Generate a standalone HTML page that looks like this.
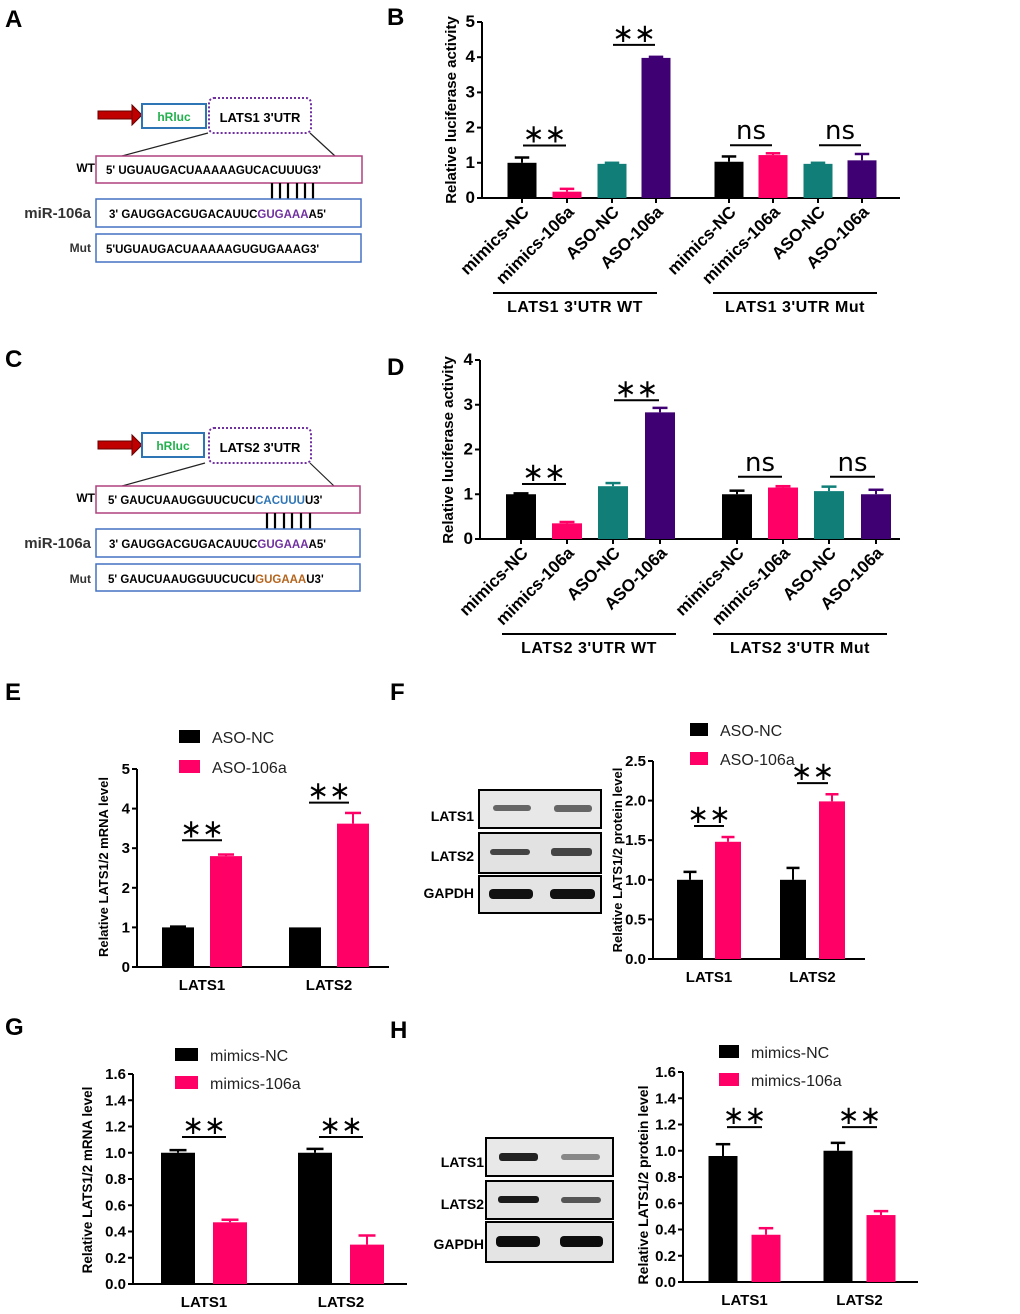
<!DOCTYPE html>
<html><head><meta charset="utf-8">
<style>
html,body{margin:0;padding:0;background:#fff;}
svg{display:block;font-family:"Liberation Sans",Arial,sans-serif;}
.b{font-weight:bold;}
</style></head>
<body>
<svg id="fig" width="1020" height="1314" viewBox="0 0 1020 1314" xmlns="http://www.w3.org/2000/svg">
<!-- panel letters -->
<g class="b" font-size="24">
<text x="5" y="27">A</text><text x="387" y="25">B</text>
<text x="5" y="367">C</text><text x="387" y="375">D</text>
<text x="5" y="700">E</text><text x="390" y="700">F</text>
<text x="5" y="1035">G</text><text x="390" y="1038">H</text>
</g>

<!-- Panel A diagram -->
<g>
<rect x="98" y="111" width="36" height="8" fill="#c00000" stroke="#600" stroke-width="1"/>
<polygon points="132,105 142,115 132,125" fill="#c00000" stroke="#600"/>
<rect x="142" y="104" width="64" height="24" fill="#fff" stroke="#2e75b6" stroke-width="2"/>
<text x="174" y="121" text-anchor="middle" class="b" font-size="12" fill="#22b14c">hRluc</text>
<rect x="209" y="98" width="102" height="35" rx="5" fill="none" stroke="#7030a0" stroke-width="2" stroke-dasharray="2,2"/>
<text x="260" y="122" text-anchor="middle" class="b" font-size="13">LATS1 3'UTR</text>
<line x1="208" y1="133" x2="122" y2="156" stroke="#222" stroke-width="1.2"/>
<line x1="310" y1="133" x2="335" y2="156" stroke="#222" stroke-width="1.2"/>
<text x="95" y="172" text-anchor="end" class="b" font-size="12">WT</text>
<rect x="96" y="156" width="266" height="27" fill="#fff" stroke="#b0407f" stroke-width="1.5"/>
<text x="106" y="174" class="b" font-size="11.5">5' UGUAUGACUAAAAAGUCACUUUG3'</text>
<g stroke="#000" stroke-width="2.2"><line x1="272" y1="183" x2="272" y2="199"/><line x1="280" y1="183" x2="280" y2="199"/><line x1="288" y1="183" x2="288" y2="199"/><line x1="297" y1="183" x2="297" y2="199"/><line x1="305" y1="183" x2="305" y2="199"/><line x1="313" y1="183" x2="313" y2="199"/></g>
<text x="91" y="218" text-anchor="end" class="b" font-size="15" fill="#333">miR-106a</text>
<rect x="96" y="199" width="265" height="28" fill="#fff" stroke="#4472c4" stroke-width="1.5"/>
<text x="109" y="218" class="b" font-size="11.5">3' GAUGGACGUGACAUUC<tspan fill="#7030a0">GUGAAA</tspan>A5'</text>
<text x="91" y="252" text-anchor="end" class="b" font-size="12" fill="#333">Mut</text>
<rect x="96" y="234" width="265" height="28" fill="#fff" stroke="#4472c4" stroke-width="1.5"/>
<text x="106" y="253" class="b" font-size="11.5">5'UGUAUGACUAAAAAGUGUGAAAG3'</text>
</g>

<!-- Panel C diagram -->
<g>
<rect x="98" y="441" width="36" height="8" fill="#c00000" stroke="#600" stroke-width="1"/>
<polygon points="132,435 142,445 132,455" fill="#c00000" stroke="#600"/>
<rect x="142" y="433" width="62" height="24" fill="#fff" stroke="#2e75b6" stroke-width="2"/>
<text x="173" y="450" text-anchor="middle" class="b" font-size="12" fill="#22b14c">hRluc</text>
<rect x="209" y="428" width="102" height="35" rx="5" fill="none" stroke="#7030a0" stroke-width="2" stroke-dasharray="2,2"/>
<text x="260" y="452" text-anchor="middle" class="b" font-size="13">LATS2 3'UTR</text>
<line x1="205" y1="463" x2="122" y2="486" stroke="#222" stroke-width="1.2"/>
<line x1="310" y1="463" x2="334" y2="486" stroke="#222" stroke-width="1.2"/>
<text x="95" y="502" text-anchor="end" class="b" font-size="12">WT</text>
<rect x="96" y="486" width="264" height="27" fill="#fff" stroke="#b0407f" stroke-width="1.5"/>
<text x="108" y="504" class="b" font-size="11.5">5' GAUCUAAUGGUUCUCU<tspan fill="#2e75b6">CACUUU</tspan>U3'</text>
<g stroke="#000" stroke-width="2.2"><line x1="267" y1="513" x2="267" y2="529"/><line x1="275" y1="513" x2="275" y2="529"/><line x1="284" y1="513" x2="284" y2="529"/><line x1="292" y1="513" x2="292" y2="529"/><line x1="301" y1="513" x2="301" y2="529"/><line x1="310" y1="513" x2="310" y2="529"/></g>
<text x="91" y="548" text-anchor="end" class="b" font-size="15" fill="#333">miR-106a</text>
<rect x="96" y="529" width="264" height="28" fill="#fff" stroke="#4472c4" stroke-width="1.5"/>
<text x="109" y="548" class="b" font-size="11.5">3' GAUGGACGUGACAUUC<tspan fill="#7030a0">GUGAAA</tspan>A5'</text>
<text x="91" y="583" text-anchor="end" class="b" font-size="12" fill="#333">Mut</text>
<rect x="96" y="564" width="264" height="27" fill="#fff" stroke="#4472c4" stroke-width="1.5"/>
<text x="108" y="583" class="b" font-size="11.5">5' GAUCUAAUGGUUCUCU<tspan fill="#b5651d">GUGAAA</tspan>U3'</text>
</g>

<!-- Blots F -->
<g>
<rect x="479" y="790" width="122" height="38" fill="#e8e8e8" stroke="#000" stroke-width="2"/>
<rect x="479" y="833" width="122" height="40" fill="#e2e2e2" stroke="#000" stroke-width="2"/>
<rect x="479" y="876" width="122" height="37" fill="#e4e4e4" stroke="#000" stroke-width="2"/>
<g fill="#666"><rect x="493" y="805" width="38" height="6" rx="3"/><rect x="554" y="805" width="38" height="7" rx="3"/></g>
<g fill="#444"><rect x="490" y="849" width="40" height="6" rx="3"/><rect x="551" y="848" width="41" height="8" rx="3"/></g>
<g fill="#111"><rect x="489" y="889" width="44" height="10" rx="4"/><rect x="550" y="889" width="45" height="10" rx="4"/></g>
<g class="b" font-size="14" text-anchor="end"><text x="474" y="821">LATS1</text><text x="474" y="861">LATS2</text><text x="474" y="898">GAPDH</text></g>
</g>
<!-- Blots H -->
<g>
<rect x="486" y="1138" width="127" height="38" fill="#e8e8e8" stroke="#000" stroke-width="2"/>
<rect x="486" y="1181" width="127" height="38" fill="#e4e4e4" stroke="#000" stroke-width="2"/>
<rect x="486" y="1222" width="127" height="40" fill="#e4e4e4" stroke="#000" stroke-width="2"/>
<g fill="#222"><rect x="499" y="1153" width="39" height="8" rx="3"/></g><g fill="#888"><rect x="561" y="1154" width="39" height="6" rx="3"/></g>
<g fill="#1a1a1a"><rect x="498" y="1196" width="41" height="7" rx="3"/></g><g fill="#555"><rect x="561" y="1197" width="40" height="6" rx="3"/></g>
<g fill="#0d0d0d"><rect x="496" y="1236" width="44" height="11" rx="4"/><rect x="560" y="1236" width="43" height="11" rx="4"/></g>
<g class="b" font-size="14" text-anchor="end"><text x="484" y="1167">LATS1</text><text x="484" y="1209">LATS2</text><text x="484" y="1249">GAPDH</text></g>
</g>
<g id="charts"></g>
</svg>
<script>
// ---- data ----
const bCats = ["mimics-NC","mimics-106a","ASO-NC","ASO-106a","mimics-NC","mimics-106a","ASO-NC","ASO-106a"];
const bVals = [1.0,0.18,0.97,3.98,1.03,1.22,0.97,1.07];
const bErr  = [0.15,0.08,0.03,0.03,0.15,0.05,0.03,0.18];
const bTicks = ["0","1","2","3","4","5"];
const dCats = ["mimics-NC","mimics-106a","ASO-NC","ASO-106a","mimics-NC","mimics-106a","ASO-NC","ASO-106a"];
const dVals = [1.0,0.35,1.18,2.83,1.0,1.15,1.07,1.0];
const dErr  = [0.02,0.03,0.07,0.1,0.08,0.03,0.1,0.1];
const dTicks = ["0","1","2","3","4"];
const eCats = ["LATS1","LATS2"];
const eNC = [1.0,1.0], eNCErr=[0.02,0];
const eTr = [2.8,3.62], eTrErr=[0.04,0.27];
const eTicks = ["0","1","2","3","4","5"];
const fCats = ["LATS1","LATS2"];
const fNC = [1.0,1.0], fNCErr=[0.1,0.15];
const fTr = [1.48,1.99], fTrErr=[0.06,0.09];
const fTicks = ["0.0","0.5","1.0","1.5","2.0","2.5"];
const gCats = ["LATS1","LATS2"];
const gNC = [1.0,1.0], gNCErr=[0.02,0.03];
const gTr = [0.47,0.3], gTrErr=[0.02,0.07];
const gTicks = ["0.0","0.2","0.4","0.6","0.8","1.0","1.2","1.4","1.6"];
const hCats = ["LATS1","LATS2"];
const hNC = [0.96,1.0], hNCErr=[0.09,0.06];
const hTr = [0.36,0.51], hTrErr=[0.05,0.03];
const hTicks = ["0.0","0.2","0.4","0.6","0.8","1.0","1.2","1.4","1.6"];

const NS="http://www.w3.org/2000/svg";
const root=document.getElementById('charts');
function mk(tag,attrs,parent,txt){const e=document.createElementNS(NS,tag);for(const k in attrs)e.setAttribute(k,attrs[k]);if(txt!==undefined)e.textContent=txt;(parent||root).appendChild(e);return e;}
const PINK="#ff0066",TEAL="#117f78",PURP="#3f0073";
const lumColors=["#000",PINK,TEAL,PURP,"#000",PINK,TEAL,PURP];

function axes(g,c,ticks,title,fs){
  const y=v=>c.y0-(v/c.max)*(c.y0-c.yTop);
  mk('line',{x1:c.ax,y1:c.y0,x2:c.ax,y2:c.yTop,stroke:'#000','stroke-width':2},g);
  mk('line',{x1:c.ax,y1:c.y0,x2:c.xEnd,y2:c.y0,stroke:'#000','stroke-width':2},g);
  ticks.forEach((t,i)=>{const v=parseFloat(t);const yy=y(v);
    mk('line',{x1:c.ax-5,y1:yy,x2:c.ax,y2:yy,stroke:'#000','stroke-width':2},g);
    const tx=mk('text',{x:c.ax-7,y:yy+5,'text-anchor':'end','font-size':fs||15,'font-weight':'bold'},g,t);
    
    
  });
  const tt=mk('text',{x:0,y:0,'text-anchor':'middle','font-size':c.tfs||13,'font-weight':'bold',transform:`translate(${c.tx},${c.ty}) rotate(-90)`},g,title);
  
  
  return y;
}
function bar(g,cx,w,v,e,col,y,c){
  const r=mk('rect',{x:cx-w/2,y:y(v),width:w,height:c.y0-y(v),fill:col},g);
  
  
  if(e>0){mk('line',{x1:cx,y1:y(v),x2:cx,y2:y(v+e),stroke:col,'stroke-width':2},g);
  mk('line',{x1:cx-w/4,y1:y(v+e),x2:cx+w/4,y2:y(v+e),stroke:col,'stroke-width':2.5},g);}
}
function sig(g,x1,x2,yy,txt){
  mk('line',{x1:x1,y1:yy,x2:x2,y2:yy,stroke:'#000','stroke-width':2},g);
  const t=mk('text',{x:(x1+x2)/2,y:txt=='ns'?yy-6:yy-3,'text-anchor':'middle','font-size':26,'font-family':'"DejaVu Sans",sans-serif'},g,txt=='ns'?'ns':'∗∗');
  
  
}

function luc(name,c,cats,vals,errs,ticks,sigs,groups){
  const g=mk('g',{});
  
  
  const y=axes(g,c,ticks,'Relative luciferase activity',17);
  cats.forEach((cat,i)=>{const cx=c.xs[i];
    bar(g,cx,c.w,vals[i],errs[i],lumColors[i],y,c);
    mk('line',{x1:cx,y1:c.y0,x2:cx,y2:c.y0+5,stroke:'#000','stroke-width':2},g);
    const t=mk('text',{x:0,y:0,'text-anchor':'end','font-size':17,'font-weight':'bold',transform:`translate(${cx+8},${c.y0+15}) rotate(-45)`},g,cat);
    
    
  });
  sigs.forEach(s=>sig(g,c.xs[s[0]]+1,c.xs[s[1]]-1,y(s[2]),s[3]));
  groups.forEach(gr=>{mk('line',{x1:gr[0],y1:c.gy,x2:gr[1],y2:c.gy,stroke:'#000','stroke-width':2},g);
    const t=mk('text',{x:(gr[0]+gr[1])/2,y:c.gy+19,'text-anchor':'middle','font-size':16,'font-weight':'bold','letter-spacing':'0.5'},g,gr[2]);
    
    });
}
luc('chart-b',{ax:482,y0:198,yTop:22,max:5,xEnd:900,w:29,xs:[522,567,612,656,729,773,818,862],tx:456,ty:110,tfs:15,gy:293},
  bCats,bVals,bErr,bTicks,[[0,1,1.49,'**'],[2,3,4.35,'**'],[4,5,1.5,'ns'],[6,7,1.5,'ns']],[[493,657,"LATS1 3'UTR WT"],[713,877,"LATS1 3'UTR Mut"]]);
luc('chart-d',{ax:480,y0:539,yTop:360,max:4,xEnd:900,w:30,xs:[521,567,613,660,737,783,829,876],tx:453,ty:450,tfs:15,gy:634},
  dCats,dVals,dErr,dTicks,[[0,1,1.23,'**'],[2,3,3.1,'**'],[4,5,1.39,'ns'],[6,7,1.39,'ns']],[[502,676,"LATS2 3'UTR WT"],[713,887,"LATS2 3'UTR Mut"]]);

function pair(name,c,cats,nc,ncE,tr,trE,ticks,title,leg,sigY){
  const g=mk('g',{});
  
  
  const y=axes(g,c,ticks,title,c.fs);
  cats.forEach((cat,i)=>{
    bar(g,c.xs[i][0],c.w,nc[i],ncE[i],'#000',y,c);
    bar(g,c.xs[i][1],c.w,tr[i],trE[i],PINK,y,c);
    const t=mk('text',{x:(c.xs[i][0]+c.xs[i][1])/2,y:c.y0+23,'text-anchor':'middle','font-size':15,'font-weight':'bold'},g,cat);
    
    
    sig(g,c.xs[i][0]+4,c.xs[i][1]-4,y(sigY[i]),'**');
  });
  leg.forEach((l,i)=>{
    const r=mk('rect',{x:c.lx,y:c.ly[i]-7,width:c.lw,height:13,fill:i?PINK:'#000'},g);
    
    
    const t=mk('text',{x:c.lx+c.lw+12,y:c.ly[i]+6,'font-size':16,fill:'#222'},g,l);
    
    
  });
}
pair('chart-e',{ax:137,y0:967,yTop:769,max:5,xEnd:389,w:32,xs:[[178,226],[305,353]],tx:108,ty:867,tfs:13,lx:179,lw:21,ly:[737,767],fs:15},
  eCats,eNC,eNCErr,eTr,eTrErr,eTicks,'Relative LATS1/2 mRNA level',['ASO-NC','ASO-106a'],[3.2,4.15]);
pair('chart-f',{ax:653,y0:959,yTop:761,max:2.5,xEnd:865,w:26,xs:[[690,728],[793,832]],tx:622,ty:860,tfs:13,lx:690,lw:18,ly:[730,759],fs:15},
  fCats,fNC,fNCErr,fTr,fTrErr,fTicks,'Relative LATS1/2 protein level',['ASO-NC','ASO-106a'],[1.68,2.22]);
pair('chart-g',{ax:133,y0:1284,yTop:1074,max:1.6,xEnd:407,w:34,xs:[[178,230],[315,367]],tx:92,ty:1180,tfs:13.5,lx:175,lw:23,ly:[1055,1083],fs:15},
  gCats,gNC,gNCErr,gTr,gTrErr,gTicks,'Relative LATS1/2 mRNA level',['mimics-NC','mimics-106a'],[1.12,1.12]);
pair('chart-h',{ax:683,y0:1282,yTop:1072,max:1.6,xEnd:918,w:29,xs:[[723,766],[838,881]],tx:648,ty:1185,tfs:14,lx:719,lw:20,ly:[1052,1080],fs:15},
  hCats,hNC,hNCErr,hTr,hTrErr,hTicks,'Relative LATS1/2 protein level',['mimics-NC','mimics-106a'],[1.18,1.18]);
</script>
</body></html>
